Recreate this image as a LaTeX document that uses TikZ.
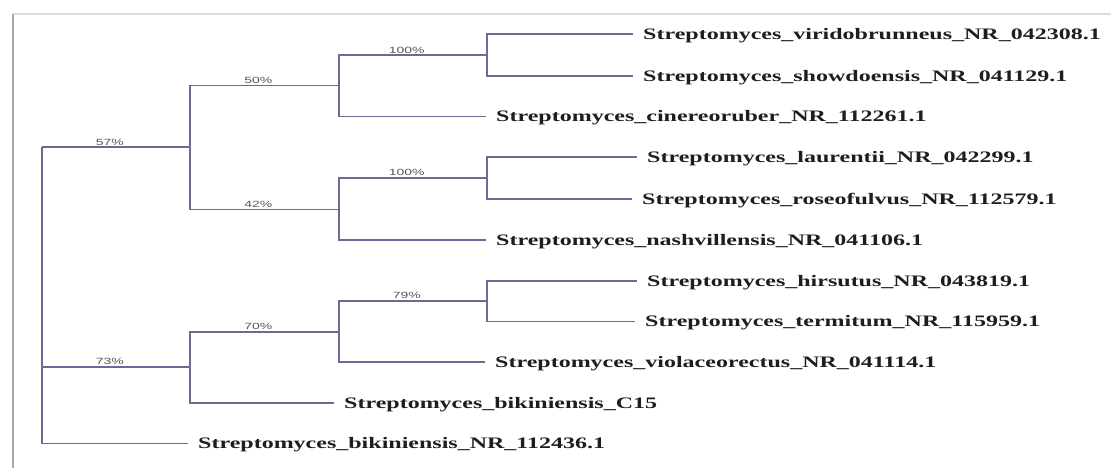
\documentclass[tikz,border=0pt]{standalone}
\usepackage{fontspec}
\setmainfont{Liberation Serif}
\newfontfamily\labfont{Liberation Sans}
\definecolor{branch}{HTML}{6A6A96}
\definecolor{leaftext}{HTML}{1E1E1E}
\definecolor{bstext}{HTML}{555555}
\definecolor{frameL}{HTML}{A8A8A8}
\definecolor{frameT}{HTML}{DCDCDC}
\newcommand\pct[1]{\scalebox{1.55}[1]{#1\%}}
\newcommand\leafname[1]{\scalebox{1.5}[1]{#1}}
\begin{document}
\begin{tikzpicture}[x=1pt,y=-1pt,
  edge/.style={draw=branch,line width=1.6pt,line join=miter},
  leaf/.style={anchor=west,inner xsep=10pt,inner ysep=0pt,text height=10.6pt,text depth=0pt,
    font=\fontsize{16}{16}\selectfont\bfseries,text=leaftext},
  blab/.style={anchor=south,inner sep=0pt,yshift=1pt,pos=0.73,
    font=\labfont\fontsize{9}{9}\selectfont,text=bstext}]
\fill[white] (0,0) rectangle (1111,468);
\useasboundingbox (0,0) rectangle (1111,468);
% frame
\draw[frameT,line width=1.2pt] (12.5,14) -- (1111,14);
\draw[frameL,line width=2pt] (12.5,14) -- (12.5,468);
% internal nodes
\coordinate (root) at (41.7,147.3);
\coordinate (N57) at (190,147.3);
\coordinate (N50) at (338.7,85.7);
\coordinate (N100a) at (486.7,55.3);
\coordinate (N42) at (338.7,209.3);
\coordinate (N100b) at (486.7,177.7);
\coordinate (N73) at (190,366.7);
\coordinate (N70) at (338.7,331.7);
\coordinate (N79) at (486.7,300.7);
% leaves
\node[leaf] (viri) at (633,34.3) {\leafname{Streptomyces\_viridobrunneus\_NR\_042308.1}};
\node[leaf] (show) at (633,76) {\leafname{Streptomyces\_showdoensis\_NR\_041129.1}};
\node[leaf] (cine) at (486,116.7) {\leafname{Streptomyces\_cinereoruber\_NR\_112261.1}};
\node[leaf] (laur) at (637,157.3) {\leafname{Streptomyces\_laurentii\_NR\_042299.1}};
\node[leaf] (rose) at (632,198.7) {\leafname{Streptomyces\_roseofulvus\_NR\_112579.1}};
\node[leaf] (nash) at (486,240) {\leafname{Streptomyces\_nashvillensis\_NR\_041106.1}};
\node[leaf] (hirs) at (637,280.7) {\leafname{Streptomyces\_hirsutus\_NR\_043819.1}};
\node[leaf] (term) at (635,321.3) {\leafname{Streptomyces\_termitum\_NR\_115959.1}};
\node[leaf] (viol) at (485,361.7) {\leafname{Streptomyces\_violaceorectus\_NR\_041114.1}};
\node[leaf] (c15) at (334,403) {\leafname{Streptomyces\_bikiniensis\_C15}};
\node[leaf] (bnr) at (188,443.3) {\leafname{Streptomyces\_bikiniensis\_NR\_112436.1}};
% edges
\draw[edge] (root) |- node[blab]{\pct{57}} (N57);
\draw[edge] (root) |- node[blab]{\pct{73}} (N73);
\draw[edge] (root) |- (bnr);
\draw[edge] (N57) |- node[blab]{\pct{50}} (N50);
\draw[edge] (N57) |- node[blab]{\pct{42}} (N42);
\draw[edge] (N50) |- node[blab]{\pct{100}} (N100a);
\draw[edge] (N50) |- (cine);
\draw[edge] (N100a) |- (viri);
\draw[edge] (N100a) |- (show);
\draw[edge] (N42) |- node[blab]{\pct{100}} (N100b);
\draw[edge] (N42) |- (nash);
\draw[edge] (N100b) |- (laur);
\draw[edge] (N100b) |- (rose);
\draw[edge] (N73) |- node[blab]{\pct{70}} (N70);
\draw[edge] (N73) |- (c15);
\draw[edge] (N70) |- node[blab]{\pct{79}} (N79);
\draw[edge] (N70) |- (viol);
\draw[edge] (N79) |- (hirs);
\draw[edge] (N79) |- (term);
\end{tikzpicture}
\end{document}
